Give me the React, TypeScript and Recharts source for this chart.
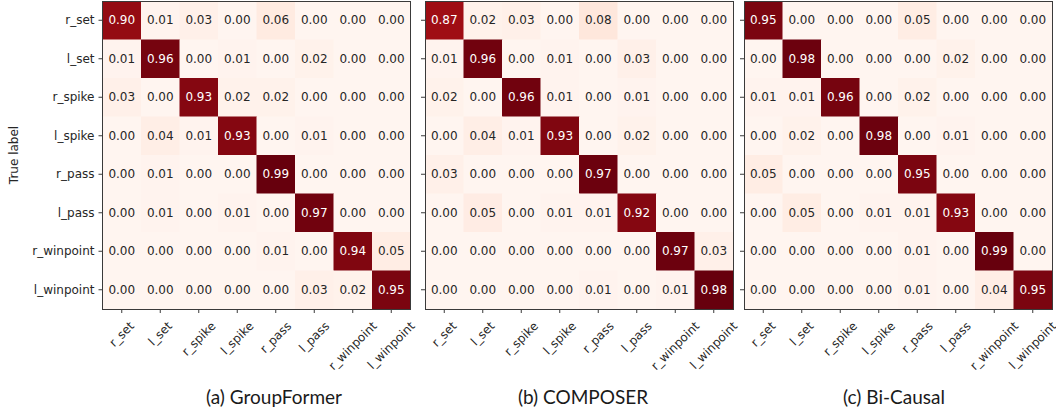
import { Scatter, ScatterChart, XAxis, YAxis } from "recharts";

const LABELS = ["r_set", "l_set", "r_spike", "l_spike", "r_pass", "l_pass", "r_winpoint", "l_winpoint"];
const IDX = LABELS.map((_, i) => i);

const groupFormer = [
  [0.9, 0.01, 0.03, 0.0, 0.06, 0.0, 0.0, 0.0],
  [0.01, 0.96, 0.0, 0.01, 0.0, 0.02, 0.0, 0.0],
  [0.03, 0.0, 0.93, 0.02, 0.02, 0.0, 0.0, 0.0],
  [0.0, 0.04, 0.01, 0.93, 0.0, 0.01, 0.0, 0.0],
  [0.0, 0.01, 0.0, 0.0, 0.99, 0.0, 0.0, 0.0],
  [0.0, 0.01, 0.0, 0.01, 0.0, 0.97, 0.0, 0.0],
  [0.0, 0.0, 0.0, 0.0, 0.01, 0.0, 0.94, 0.05],
  [0.0, 0.0, 0.0, 0.0, 0.0, 0.03, 0.02, 0.95],
];

const composer = [
  [0.87, 0.02, 0.03, 0.0, 0.08, 0.0, 0.0, 0.0],
  [0.01, 0.96, 0.0, 0.01, 0.0, 0.03, 0.0, 0.0],
  [0.02, 0.0, 0.96, 0.01, 0.0, 0.01, 0.0, 0.0],
  [0.0, 0.04, 0.01, 0.93, 0.0, 0.02, 0.0, 0.0],
  [0.03, 0.0, 0.0, 0.0, 0.97, 0.0, 0.0, 0.0],
  [0.0, 0.05, 0.0, 0.01, 0.01, 0.92, 0.0, 0.0],
  [0.0, 0.0, 0.0, 0.0, 0.0, 0.0, 0.97, 0.03],
  [0.0, 0.0, 0.0, 0.0, 0.01, 0.0, 0.01, 0.98],
];

const biCausal = [
  [0.95, 0.0, 0.0, 0.0, 0.05, 0.0, 0.0, 0.0],
  [0.0, 0.98, 0.0, 0.0, 0.0, 0.02, 0.0, 0.0],
  [0.01, 0.01, 0.96, 0.0, 0.02, 0.0, 0.0, 0.0],
  [0.0, 0.02, 0.0, 0.98, 0.0, 0.01, 0.0, 0.0],
  [0.05, 0.0, 0.0, 0.0, 0.95, 0.0, 0.0, 0.0],
  [0.0, 0.05, 0.0, 0.01, 0.01, 0.93, 0.0, 0.0],
  [0.0, 0.0, 0.0, 0.0, 0.01, 0.0, 0.99, 0.0],
  [0.0, 0.0, 0.0, 0.0, 0.01, 0.0, 0.04, 0.95],
];

const TITLES = ["(a) GroupFormer", "(b) COMPOSER", "(c) Bi-Causal"];

// matplotlib "Reds"
const REDS = ["#fff5f0", "#fee0d2", "#fcbba1", "#fc9272", "#fb6a4a", "#ef3b2c", "#cb181d", "#a50f15", "#67000d"];

function hex(c: string) {
  return [1, 3, 5].map((i) => parseInt(c.slice(i, i + 2), 16));
}

function reds(t: number) {
  const s = Math.max(0, Math.min(1, t)) * (REDS.length - 1);
  const i = Math.min(Math.floor(s), REDS.length - 2);
  const f = s - i;
  const a = hex(REDS[i]);
  const b = hex(REDS[i + 1]);
  const m = a.map((v, k) => Math.round(v + (b[k] - v) * f));
  return `rgb(${m[0]},${m[1]},${m[2]})`;
}

const FONT = "DejaVu Sans";
const FS = 12;
const INK = "#262626";
const SPINE = "#3a3a3a";
const PLOT = 308;
const CELL = PLOT / 8;
const TOP = 1;
const RIGHT_PAD = 40;

let ctx: CanvasRenderingContext2D | null = null;
function textWidth(s: string) {
  if (!ctx) {
    ctx = document.createElement("canvas").getContext("2d");
  }
  if (!ctx) return s.length * FS * 0.6;
  ctx.font = `${FS}px "${FONT}"`;
  return ctx.measureText(s).width;
}

function XTick({ x, y, payload }: any) {
  const label = LABELS[payload.value];
  const w = textWidth(label);
  const h = FS * 1.15;
  const cy = y + 6 + (w + h) / (2 * Math.SQRT2);
  return (
    <text
      x={x}
      y={cy}
      transform={`rotate(-45 ${x} ${cy})`}
      textAnchor="middle"
      dominantBaseline="central"
      fontSize={FS}
      fontFamily={FONT}
      fill={INK}
    >
      {label}
    </text>
  );
}

function YTick({ x, y, payload, show }: any) {
  if (!show) return <g />;
  return (
    <text x={x} y={y} dy="0.35em" textAnchor="end" fontSize={FS} fontFamily={FONT} fill={INK}>
      {LABELS[payload.value]}
    </text>
  );
}

function cellShape(vmax: number) {
  return (props: any) => {
    const { cx, cy, payload } = props;
    const v: number = payload.v;
    return (
      <g>
        <rect
          x={cx - CELL / 2}
          y={cy - CELL / 2}
          width={CELL + 0.5}
          height={CELL + 0.5}
          fill={reds(v / vmax)}
        />
        <text
          x={cx}
          y={cy}
          dy="0.35em"
          textAnchor="middle"
          fontSize={FS}
          fontFamily={FONT}
          fill={v > vmax / 2 ? "#ffffff" : INK}
        >
          {v.toFixed(2)}
        </text>
      </g>
    );
  };
}

function Matrix({ values, left, axisW, showLabels }: any) {
  const data = values.flatMap((row: number[], r: number) => row.map((v, c) => ({ x: c, y: r, v })));
  const vmax = Math.max(...data.map((d: any) => d.v));
  return (
    <div style={{ position: "absolute", left, top: 0 }}>
      <ScatterChart
        width={axisW + PLOT + RIGHT_PAD}
        height={TOP + PLOT + 100}
        margin={{ top: TOP, right: RIGHT_PAD, bottom: 0, left: 0 }}
        style={{ overflow: "visible" }}
      >
        <XAxis
          type="number"
          dataKey="x"
          domain={[-0.5, 7.5]}
          ticks={IDX}
          interval={0}
          height={100}
          axisLine={false}
          tickSize={4}
          tickMargin={0}
          tickLine={{ stroke: SPINE }}
          tick={<XTick />}
        />
        <YAxis
          type="number"
          dataKey="y"
          domain={[-0.5, 7.5]}
          reversed
          ticks={IDX}
          interval={0}
          width={axisW}
          axisLine={false}
          tickSize={4}
          tickMargin={4}
          tickLine={{ stroke: SPINE }}
          tick={<YTick show={showLabels} />}
          label={
            showLabels
              ? {
                  content: (p: any) => {
                    const vb = p.viewBox;
                    const tx = vb.x + 14;
                    const ty = vb.y + vb.height / 2;
                    return (
                      <text
                        x={tx}
                        y={ty}
                        transform={`rotate(-90 ${tx} ${ty})`}
                        textAnchor="middle"
                        dominantBaseline="central"
                        fontSize={FS}
                        fontFamily={FONT}
                        fill={INK}
                      >
                        True label
                      </text>
                    );
                  },
                }
              : undefined
          }
        />
        <Scatter data={data} shape={cellShape(vmax)} isAnimationActive={false} />
      </ScatterChart>
      <div
        style={{
          position: "absolute",
          left: axisW - 0.5,
          top: TOP - 0.5,
          width: PLOT + 1,
          height: PLOT + 1,
          border: `1px solid ${SPINE}`,
          boxSizing: "border-box",
          pointerEvents: "none",
        }}
      />
    </div>
  );
}

const CAPTION_X = [274, 583, 894];

export default function App() {
  return (
    <div
      style={{
        position: "absolute",
        left: 0,
        top: 0,
        width: 1056,
        height: 414,
        background: "#ffffff",
        overflow: "hidden",
      }}
    >
      <Matrix values={groupFormer} left={0} axisW={102.5} showLabels />
      <Matrix values={composer} left={415} axisW={10} showLabels={false} />
      <Matrix values={biCausal} left={734} axisW={10} showLabels={false} />
      {TITLES.map((t, i) => (
        <div
          key={t}
          style={{
            position: "absolute",
            left: CAPTION_X[i] - 100,
            width: 200,
            top: 385,
            textAlign: "center",
            fontFamily: "Lato",
            fontSize: 19,
            color: "#1a1a1a",
          }}
        >
          {t}
        </div>
      ))}
    </div>
  );
}
